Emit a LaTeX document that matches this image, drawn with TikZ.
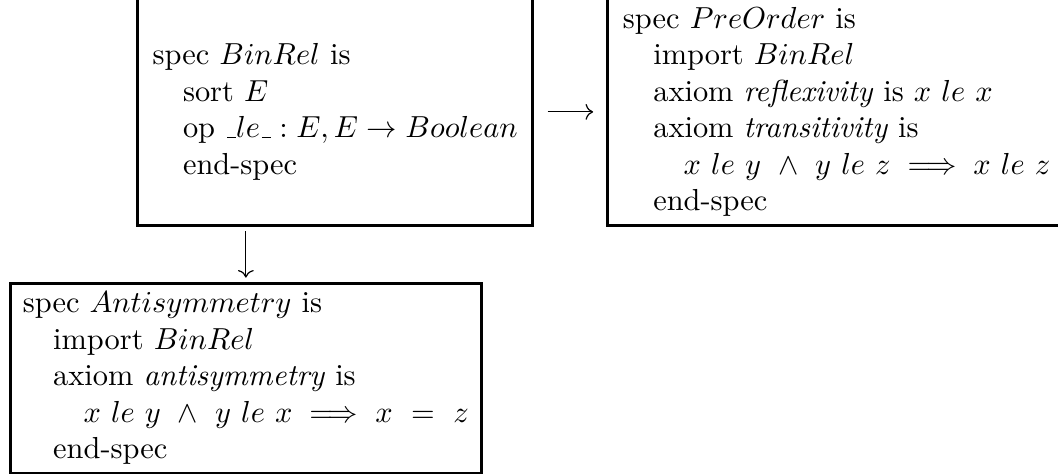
\documentclass[tikz,border=0pt]{standalone}
\usepackage{amsmath,amssymb}
\usepackage{tikz}
\usetikzlibrary{arrows.meta, positioning}
\newcommand{\uscore}{\kern.06em\vbox{\hrule width.3em}}

\begin{document}
\begin{tikzpicture}[
      specbox/.style={draw, line width=1pt, align=left, inner xsep=4pt, inner ysep=3pt, minimum height=75pt},
      maps/.style={-{Computer Modern Rightarrow}, thin}
    ]
      \useasboundingbox (0,0) rectangle (348pt,-155.6pt);
      \node[specbox, inner xsep=5pt, anchor=south west] (binrel) at (44.7pt,-74.8pt)
        {spec $BinRel$ is\\
         \hspace*{1em}sort $E$\\
         \hspace*{1em}op $\uscore le\uscore : E, E \rightarrow Boolean$\\
         \hspace*{1em}end-spec};
      \node[specbox, inner xsep=5pt, anchor=south east] (preorder) at (351pt,-74.8pt)
        {spec $PreOrder$ is\\
         \hspace*{1em}import $BinRel$\\
         \hspace*{1em}axiom \textit{reflexivity} is $x\ le\ x$\\
         \hspace*{1em}axiom \textit{transitivity} is\\
         \hspace*{2em}$x\ le\ y\ \wedge\ y\ le\ z \implies x\ le\ z$\\
         \hspace*{1em}end-spec};
      \node[specbox, minimum height=0pt, below left=17.8pt and 41.7pt of binrel.south west, anchor=north west] (antisym)
        {spec $Antisymmetry$ is\\
         \hspace*{1em}import $BinRel$\\
         \hspace*{1em}axiom \textit{antisymmetry} is\\
         \hspace*{2em}$x\ le\ y\ \wedge\ y\ le\ x \implies x\ =\ z$\\
         \hspace*{1em}end-spec};
      \draw[maps, shorten <=4.3pt, shorten >=4.3pt] (binrel.east) -- (binrel.east -| preorder.west);
      \draw[maps, shorten <=1.3pt, shorten >=1.3pt] (antisym.north |- binrel.south) -- (antisym.north);
\end{tikzpicture}
\end{document}
